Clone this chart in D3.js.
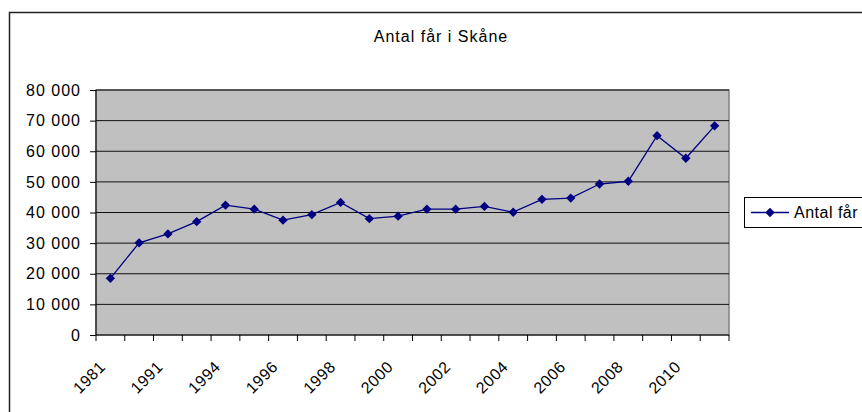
<!DOCTYPE html>
<html>
<head>
<meta charset="utf-8">
<script src="https://cdn.jsdelivr.net/npm/d3@7"></script>
<style>
  body { margin: 0; background: #fff; }
  svg { display: block; font-family: "Liberation Sans", Arial, sans-serif; }
</style>
</head>
<body>
<div class="chart"></div>
<script>
// data
var years = ["1981", "1990", "1991", "1993", "1994", "1995", "1996", "1997", "1998", "1999", "2000",
             "2001", "2002", "2003", "2004", "2005", "2006", "2007", "2008", "2009", "2010", "2011"];
var sheep = [18500, 30100, 33000, 37000, 42400, 41100, 37500, 39300, 43300, 38000, 38800,
             41100, 41100, 42000, 40100, 44300, 44700, 49300, 50200, 65100, 57700, 68300];
var yTicks = [0, 10000, 20000, 30000, 40000, 50000, 60000, 70000, 80000];
var seriesName = "Antal får";
var title = "Antal får i Skåne";

var width = 862, height = 412;
var margin = {top: 90, left: 96, right: 133, bottom: 77};
var plotW = width - margin.left - margin.right,
    plotH = height - margin.top - margin.bottom;

var svg = d3.select(".chart")
    .append("svg")
    .attr("width", width)
    .attr("height", height);

// outer chart frame (runs off the right/bottom edge)
svg.append("rect")
    .attr("x", 9.5).attr("y", 12.5)
    .attr("width", 900).attr("height", 450)
    .attr("fill", "none")
    .attr("stroke", "#222")
    .attr("stroke-width", 1.5);

svg.append("text")
    .attr("x", 441).attr("y", 42)
    .attr("text-anchor", "middle")
    .attr("font-size", "16px")
    .attr("letter-spacing", "1px")
    .text(title);

var g = svg.append("g")
    .attr("transform", "translate(" + margin.left + "," + margin.top + ")");

var x = d3.scaleBand().domain(years).range([0, plotW]);
var y = d3.scaleLinear().domain([0, 80000]).range([plotH, 0]);

g.append("rect")
    .attr("width", plotW)
    .attr("height", plotH)
    .attr("fill", "#c0c0c0")
    .attr("stroke", "#808080")
    .attr("stroke-width", 1.5);

// gridlines
g.selectAll(".grid")
    .data(yTicks.slice(1))
    .enter().append("line")
    .attr("x1", 0).attr("x2", plotW)
    .attr("y1", function(d){ return y(d); })
    .attr("y2", function(d){ return y(d); })
    .attr("stroke", "#111")
    .attr("stroke-width", 1);

var fmt = function(d){ return d3.format(",")(d).replace(/,/g, " "); };

var yAxis = g.append("g")
    .call(d3.axisLeft(y).tickValues(yTicks).tickFormat(fmt).tickSize(6).tickPadding(9));
yAxis.attr("font-size", null).attr("font-family", null);
yAxis.selectAll("text")
    .attr("font-size", "16px")
    .attr("letter-spacing", "1px")
    .attr("fill", "#000");
yAxis.selectAll("line").attr("stroke", "#000");
yAxis.select(".domain").attr("stroke", "#000").attr("d", "M0,0V" + plotH);

// x axis: ticks between categories, labels every other category
var xb = g.append("g").attr("transform", "translate(0," + plotH + ")");
xb.append("line").attr("x1", 0).attr("x2", plotW).attr("stroke", "#000");
xb.selectAll(".tk")
    .data(d3.range(years.length + 1))
    .enter().append("line")
    .attr("x1", function(i){ return i * x.step(); })
    .attr("x2", function(i){ return i * x.step(); })
    .attr("y1", 0).attr("y2", 6)
    .attr("stroke", "#000");
xb.selectAll(".lbl")
    .data(years.filter(function(d, i){ return i % 2 === 0; }))
    .enter().append("text")
    .attr("transform", function(d){
      return "translate(" + (x(d) + x.bandwidth() / 2 - 8) + ",29) rotate(-45)";
    })
    .attr("text-anchor", "end")
    .attr("dy", "0.35em")
    .attr("font-size", "16px")
    .attr("letter-spacing", "0.5px")
    .text(function(d){ return d; });

var line = d3.line()
    .x(function(d, i){ return x(years[i]) + x.bandwidth() / 2; })
    .y(function(d){ return y(d); });

g.append("path")
    .datum(sheep)
    .attr("fill", "none")
    .attr("stroke", "#000080")
    .attr("stroke-width", 1.3)
    .attr("d", line);

var diamond = d3.symbol().type(d3.symbolDiamond2).size(56);

g.selectAll(".pt")
    .data(sheep)
    .enter().append("path")
    .attr("transform", function(d, i){
      return "translate(" + (x(years[i]) + x.bandwidth() / 2) + "," + y(d) + ")";
    })
    .attr("d", diamond)
    .attr("fill", "#000080");

// legend
var lg = svg.append("g").attr("transform", "translate(744,197)");
lg.append("rect")
    .attr("x", 0.5).attr("y", 0.5)
    .attr("width", 140).attr("height", 30)
    .attr("fill", "#fff")
    .attr("stroke", "#000");
lg.append("line")
    .attr("x1", 7).attr("x2", 45).attr("y1", 15.5).attr("y2", 15.5)
    .attr("stroke", "#000080").attr("stroke-width", 1.3);
lg.append("path")
    .attr("transform", "translate(26,15.5)")
    .attr("d", diamond)
    .attr("fill", "#000080");
lg.append("text")
    .attr("x", 50).attr("y", 15.5)
    .attr("dy", "0.35em")
    .attr("font-size", "16px")
    .attr("letter-spacing", "0.5px")
    .text(seriesName);
</script>
</body>
</html>
